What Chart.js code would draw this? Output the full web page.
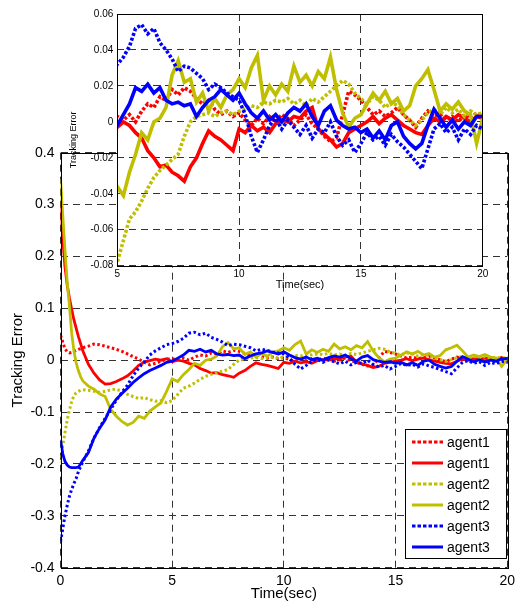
<!DOCTYPE html>
<html><head><meta charset="utf-8">
<script src="https://cdn.jsdelivr.net/npm/chart.js@4/dist/chart.umd.min.js"></script>
<style>
html,body{margin:0;padding:0;background:#fff;overflow:hidden}
#wrap{position:relative;width:520px;height:607px;background:#fff}
canvas{position:absolute;left:0;top:0}
</style></head><body>
<div id="wrap"><canvas id="main" width="520" height="607"></canvas><canvas id="inset" width="520" height="300"></canvas></div>
<script>
const time = [0,0.1,0.2,0.3,0.4,0.5,0.6,0.7,0.8,0.9,1,
1.25,1.5,1.75,2,2.25,2.5,2.75,3,3.25,3.5,3.75,4,4.25,4.5,4.75,5,
5.25,5.5,5.75,6,6.25,6.5,6.75,7,7.25,7.5,7.75,8,8.25,8.5,8.75,9,9.25,9.5,9.75,10,
10.25,10.5,10.75,11,11.25,11.5,11.75,12,12.25,12.5,12.75,13,13.25,13.5,13.75,14,14.25,14.5,14.75,15,
15.25,15.5,15.75,16,16.25,16.5,16.75,17,17.25,17.5,17.75,18,18.25,18.5,18.75,19,19.25,19.5,19.75,20];

const agent1Dotted = [0.048,0.035,0.022,0.016,0.014,0.015,0.017,0.019,0.021,0.022,0.024,
0.027,0.031,0.030,0.027,0.024,0.021,0.017,0.012,0.007,0.002,-0.004,-0.009,-0.006,-0.002,0.002,0.003,
0.001,0.004,0.000,0.006,0.010,0.008,0.014,0.012,0.018,0.015,0.019,0.017,0.013,0.010,0.012,0.007,0.004,0.006,0.003,0.005,
0.001,-0.002,0.002,-0.001,0.003,0.000,0.004,0.002,-0.002,0.001,0.004,-0.001,-0.004,-0.008,-0.011,-0.009,0.004,0.017,0.015,0.012,
0.008,0.004,0.006,0.003,0.005,0.008,0.004,0.001,-0.003,0.002,0.006,0.003,0.004,0.001,0.003,0.000,0.004,0.002,0.005,0.003];

const agent1Solid = [0.300,0.235,0.180,0.145,0.120,0.098,0.078,0.062,0.046,0.032,0.018,
-0.008,-0.025,-0.038,-0.046,-0.045,-0.041,-0.036,-0.030,-0.021,-0.010,-0.004,-0.001,0.002,0.000,0.003,-0.003,
0.000,-0.002,-0.006,-0.009,-0.016,-0.020,-0.025,-0.024,-0.028,-0.030,-0.033,-0.025,-0.020,-0.012,-0.005,-0.008,-0.010,-0.013,-0.016,-0.004,
-0.006,-0.002,-0.005,-0.003,-0.006,-0.001,0.001,0.000,0.003,0.002,0.006,0.008,-0.004,-0.007,-0.010,-0.014,-0.012,-0.006,-0.004,-0.002,
0.000,0.003,-0.001,0.002,0.004,0.001,-0.002,-0.004,-0.006,-0.007,-0.002,0.002,0.000,0.003,0.001,0.004,0.002,0.000,0.003,0.002];

const agent2Dotted = [-0.198,-0.165,-0.140,-0.115,-0.096,-0.080,-0.068,-0.063,-0.060,-0.058,-0.057,
-0.058,-0.060,-0.062,-0.060,-0.057,-0.056,-0.060,-0.066,-0.070,-0.074,-0.072,-0.076,-0.079,-0.078,-0.082,-0.078,
-0.066,-0.054,-0.050,-0.044,-0.037,-0.031,-0.027,-0.024,-0.021,-0.018,-0.008,0.000,0.003,0.004,0.005,0.003,0.005,0.006,0.004,0.006,
0.007,0.009,0.008,0.011,0.010,0.012,0.011,0.013,0.010,0.012,0.009,0.013,0.011,0.014,0.017,0.020,0.023,0.021,0.016,0.013,
0.010,0.014,0.012,0.008,0.011,0.009,0.004,0.001,-0.002,0.001,0.005,0.007,0.004,0.008,0.005,0.007,0.003,0.006,0.004,0.005];

const agent2Solid = [0.350,0.280,0.213,0.150,0.105,0.052,0.018,-0.005,-0.020,-0.032,-0.040,
-0.050,-0.056,-0.065,-0.070,-0.095,-0.108,-0.118,-0.125,-0.120,-0.108,-0.112,-0.098,-0.090,-0.082,-0.060,-0.036,
-0.041,-0.028,-0.018,-0.006,-0.010,0.000,0.002,0.008,0.026,0.034,0.022,0.024,0.011,0.016,0.006,0.013,0.008,0.015,0.018,0.024,
0.019,0.030,0.037,0.012,0.020,0.015,0.021,0.017,0.031,0.022,0.026,0.020,0.028,0.024,0.036,0.018,0.005,-0.003,0.002,0.004,
0.010,0.016,0.012,0.017,0.010,0.013,0.006,0.009,0.020,0.024,0.029,0.018,0.006,0.010,0.007,0.011,0.006,0.004,-0.012,0.002];

const agent3Dotted = [-0.350,-0.325,-0.300,-0.280,-0.262,-0.249,-0.238,-0.228,-0.215,-0.205,-0.196,
-0.175,-0.150,-0.130,-0.112,-0.095,-0.077,-0.062,-0.048,-0.030,-0.015,-0.003,0.010,0.018,0.024,0.030,0.032,
0.036,0.042,0.052,0.054,0.049,0.052,0.044,0.040,0.035,0.028,0.031,0.030,0.027,0.024,0.018,0.021,0.019,0.016,0.014,0.012,
0.004,-0.008,-0.017,-0.010,-0.002,0.002,-0.004,0.001,-0.003,-0.007,-0.002,-0.009,-0.004,-0.006,0.000,-0.008,-0.013,-0.010,-0.017,-0.012,
-0.006,-0.010,-0.008,-0.013,-0.007,-0.011,-0.014,-0.018,-0.022,-0.026,-0.015,-0.004,-0.001,-0.006,-0.003,-0.010,-0.004,-0.007,-0.002,-0.004];

const agent3Solid = [-0.153,-0.180,-0.195,-0.202,-0.206,-0.207,-0.207,-0.207,-0.206,-0.200,-0.193,
-0.178,-0.150,-0.131,-0.115,-0.090,-0.075,-0.064,-0.054,-0.043,-0.034,-0.026,-0.020,-0.015,-0.010,-0.004,-0.002,
0.004,0.010,0.019,0.017,0.021,0.016,0.019,0.012,0.010,0.011,0.009,0.010,0.003,0.008,0.012,0.014,0.018,0.015,0.012,0.016,
0.010,0.005,0.002,0.006,0.001,0.004,0.000,0.005,0.008,0.006,0.010,0.003,-0.002,0.006,0.009,0.001,-0.002,-0.004,-0.003,-0.006,
-0.004,-0.009,-0.005,-0.010,-0.002,0.000,-0.008,-0.012,-0.015,-0.012,-0.002,0.007,0.002,-0.003,0.001,-0.004,0.000,-0.002,0.003,0.003];

const seriesNames = ['agent1','agent1','agent2','agent2','agent3','agent3'];
const seriesValues = [agent1Dotted, agent1Solid, agent2Dotted, agent2Solid, agent3Dotted, agent3Solid];
const seriesColors = ['#FF0000','#FF0000','#BFBF00','#BFBF00','#0000FF','#0000FF'];
const seriesDotted = [true,false,true,false,true,false];

const mainXTicks = [0,5,10,15,20];
const insetXTicks = [5,10,15,20];

const FONT = "'Liberation Sans', Arial, Helvetica, sans-serif";

function makeDatasets(solidW, dotW, dash){
  return seriesValues.map((vals,i)=>({
    label: seriesNames[i],
    data: time.map((t,k)=>({x:t,y:vals[k]})),
    borderColor: seriesColors[i],
    backgroundColor: seriesColors[i],
    borderWidth: seriesDotted[i]?dotW:solidW,
    borderDash: seriesDotted[i]?dash:[],
    pointRadius: 0,
    tension: 0,
    fill: false,
    clip: 0,
    order: 5-i
  }));
}

const framePlugin = {
  id:'frame',
  afterDraw(chart){
    const a = chart.chartArea, c = chart.ctx;
    c.save(); c.strokeStyle='#000'; c.lineWidth=1; c.setLineDash([]);
    c.strokeRect(Math.round(a.left)+0.5, Math.round(a.top)+0.5, Math.round(a.right-a.left), Math.round(a.bottom-a.top));
    c.restore();
  }
};

const legendPlugin = {
  id:'boxLegend',
  afterDraw(chart){
    const a = chart.chartArea, c = chart.ctx;
    const w = 101, h = 129;
    const x0 = Math.round(a.right) - 1 - w, y0 = Math.round(a.bottom) - 10 - h;
    c.save();
    c.fillStyle='#fff'; c.fillRect(x0,y0,w,h);
    c.strokeStyle='#000'; c.lineWidth=1; c.setLineDash([]);
    c.strokeRect(x0+0.5,y0+0.5,w,h);
    chart.data.datasets.forEach((ds,i)=>{
      const y = y0 + 13 + i*21;
      c.strokeStyle = ds.borderColor; c.lineWidth = 3;
      c.setLineDash(ds.borderDash.length?[3.5,2]:[]);
      c.beginPath(); c.moveTo(x0+7,y); c.lineTo(x0+38,y); c.stroke();
      c.setLineDash([]);
      c.fillStyle='#000'; c.font = "14px " + FONT; c.textBaseline='middle'; c.textAlign='left';
      c.fillText(ds.label, x0+42, y+1);
    });
    c.restore();
  }
};

const whiteAreaPlugin = {
  id:'whiteArea',
  beforeDraw(chart){
    const a = chart.chartArea, c = chart.ctx;
    c.save(); c.fillStyle='#fff'; c.fillRect(a.left,a.top,a.right-a.left,a.bottom-a.top); c.restore();
  }
};

new Chart(document.getElementById('main'), {
  type:'line',
  data:{datasets: makeDatasets(2.8, 3, [2.5,2.5])},
  options:{
    responsive:false, animation:false, devicePixelRatio:1,
    layout:{padding:{top:152.7,right:8.3,left:0,bottom:0}},
    plugins:{legend:{display:false}, tooltip:{enabled:false}},
    scales:{
      x:{type:'linear', min:0, max:20,
        afterBuildTicks(s){ s.ticks = mainXTicks.map(v=>({value:v})); },
        afterFit(s){ s.height = 39.3; },
        ticks:{font:{size:14,family:FONT}, color:'#000', padding:5, maxRotation:0, autoSkip:false},
        grid:{color:'#333', lineWidth:1, drawTicks:false},
        border:{display:false, dash:[7,5]},
        title:{display:true, text:'Time(sec)', font:{size:15,family:FONT}, color:'#000', padding:{top:0,bottom:4}}
      },
      y:{type:'linear', min:-0.4, max:0.4,
        ticks:{stepSize:0.1, font:{size:14,family:FONT}, color:'#000', padding:6,
          callback:v=>{const r=Math.round(v*10)/10; return r===0?'0':String(r);}},
        afterFit(s){ s.width = 60.5; },
        grid:{color:'#333', lineWidth:1, drawTicks:false},
        border:{display:false, dash:[7,5]},
        title:{display:true, text:'Tracking Error', font:{size:15,family:FONT}, color:'#000', padding:{top:9,bottom:0}}
      }
    }
  },
  plugins:[framePlugin, legendPlugin]
});

new Chart(document.getElementById('inset'), {
  type:'line',
  data:{datasets: makeDatasets(3.6, 3.6, [3,2])},
  options:{
    responsive:false, animation:false, devicePixelRatio:1,
    layout:{padding:{top:14,right:37.3,left:60,bottom:0}},
    plugins:{legend:{display:false}, tooltip:{enabled:false}},
    scales:{
      x:{type:'linear', min:5, max:20,
        afterBuildTicks(s){ s.ticks = insetXTicks.map(v=>({value:v})); },
        afterFit(s){ s.height = 34.3; },
        ticks:{font:{size:10,family:FONT}, color:'#000', padding:3, maxRotation:0, autoSkip:false},
        grid:{color:'#333', lineWidth:1, drawTicks:false},
        border:{display:false, dash:[7,5]},
        title:{display:true, text:'Time(sec)', font:{size:11,family:FONT}, color:'#000', padding:{top:0,bottom:8}}
      },
      y:{type:'linear', min:-0.08, max:0.06,
        ticks:{stepSize:0.02, font:{size:10,family:FONT}, color:'#000', padding:4,
          callback:v=>{const r=Math.round(v*100)/100; return r===0?'0':String(r);}},
        afterFit(s){ s.width = 57.3; },
        grid:{color:'#333', lineWidth:1, drawTicks:false},
        border:{display:false, dash:[7,5]},
        title:{display:true, text:'Tracking Error', font:{size:9,family:FONT}, color:'#000', padding:{top:8.6,bottom:0}}
      }
    }
  },
  plugins:[whiteAreaPlugin, framePlugin]
});
</script>
</body></html>
